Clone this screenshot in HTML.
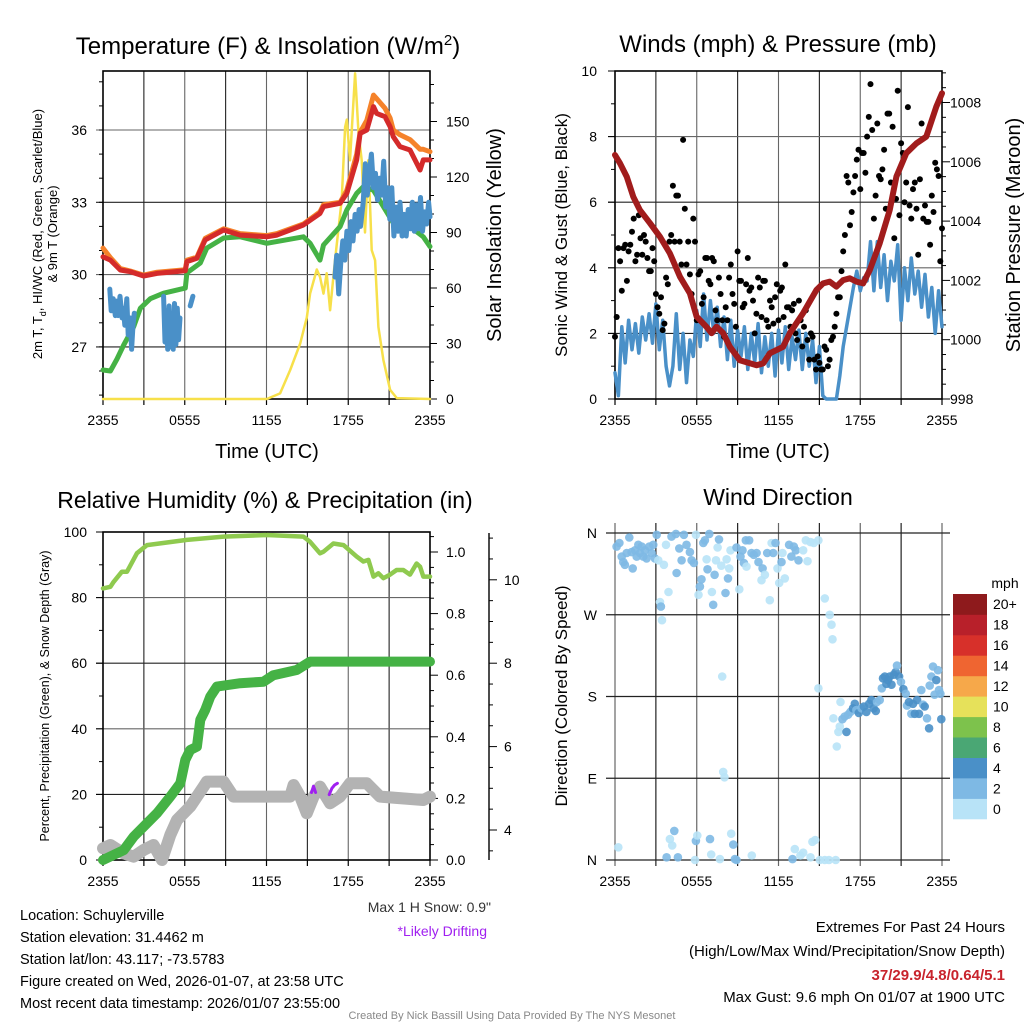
<!DOCTYPE html>
<html><head><meta charset="utf-8"><style>
html,body{margin:0;padding:0;background:#fff;}
svg{display:block;font-family:"Liberation Sans",Arial,sans-serif;}
</style></head><body>
<svg id="chart" width="1024" height="1024" viewBox="0 0 1024 1024" xmlns="http://www.w3.org/2000/svg">
<rect width="1024" height="1024" fill="#fff"/>
<g id="layer"></g>
<text x="268" y="54" font-size="24" text-anchor="middle">Temperature (F) &amp; Insolation (W/m<tspan dy="-9" font-size="15">2</tspan><tspan dy="9">)</tspan></text>
<text font-size="13" text-anchor="middle" transform="translate(42,234) rotate(-90)">2m T, T<tspan dy="4" font-size="9">d</tspan><tspan dy="-4">, HI/WC (Red, Green, Scarlet/Blue)</tspan></text>
<text font-size="13" text-anchor="middle" transform="translate(57,234) rotate(-90)">&amp; 9m T (Orange)</text>
<text font-size="20" text-anchor="middle" transform="translate(501,235) rotate(-90)">Solar Insolation (Yellow)</text>
<text x="267" y="458" font-size="20" text-anchor="middle">Time (UTC)</text>

<text x="778" y="52" font-size="24" text-anchor="middle">Winds (mph) &amp; Pressure (mb)</text>
<text font-size="17" text-anchor="middle" transform="translate(567,235) rotate(-90)">Sonic Wind &amp; Gust (Blue, Black)</text>
<text font-size="20" text-anchor="middle" transform="translate(1020,235) rotate(-90)">Station Pressure (Maroon)</text>
<text x="778" y="458" font-size="20" text-anchor="middle">Time (UTC)</text>

<text x="265" y="508" font-size="23" text-anchor="middle">Relative Humidity (%) &amp; Precipitation (in)</text>
<text font-size="12.5" text-anchor="middle" transform="translate(49,696) rotate(-90)">Percent, Precipitation (Green), &amp; Snow Depth (Gray)</text>
<text x="491" y="912" font-size="14" fill="#333" text-anchor="end">Max 1 H Snow: 0.9"</text>
<text x="487" y="936" font-size="14" fill="#a020f0" text-anchor="end">*Likely Drifting</text>

<text x="778" y="505" font-size="23" text-anchor="middle">Wind Direction</text>
<text font-size="17" text-anchor="middle" transform="translate(567,696) rotate(-90)">Direction (Colored By Speed)</text>
<text x="1005" y="588" font-size="14" text-anchor="middle">mph</text>

<g font-size="14.5">
<text x="20" y="920">Location: Schuylerville</text>
<text x="20" y="942">Station elevation: 31.4462 m</text>
<text x="20" y="964">Station lat/lon: 43.117; -73.5783</text>
<text x="20" y="986">Figure created on Wed, 2026-01-07, at 23:58 UTC</text>
<text x="20" y="1008">Most recent data timestamp: 2026/01/07 23:55:00</text>
</g>
<g font-size="15" text-anchor="end">
<text x="1005" y="932">Extremes For Past 24 Hours</text>
<text x="1005" y="956">(High/Low/Max Wind/Precipitation/Snow Depth)</text>
<text x="1005" y="980" font-weight="bold" fill="#c8232c">37/29.9/4.8/0.64/5.1</text>
<text x="1005" y="1002">Max Gust: 9.6 mph On 01/07 at 1900 UTC</text>
</g>
<text x="512" y="1019" font-size="11" fill="#888" text-anchor="middle">Created By Nick Bassill Using Data Provided By The NYS Mesonet</text>
</svg>
<script>
// ---------- DATA ----------
const xTickLabels = ["2355","0555","1155","1755","2355"];
const tempTicks = [27,30,33,36];
const insolTicks = [0,30,60,90,120,150];
const windTicks = [0,2,4,6,8,10];
const pressTicks = [998,1000,1002,1004,1006,1008];
const rhTicks = [0,20,40,60,80,100];
const precipTicks = [0.0,0.2,0.4,0.6,0.8,1.0];
const snowTicks = [4,6,8,10];
const dirLabels = ["N","E","S","W","N"];
const cbLabels = ["0","2","4","6","8","10","12","14","16","18","20+"];
const cbColors = ["#b8e3f7","#7eb9e4","#4a90c8","#4aa774","#7dc24c","#e6e15a","#f6a84a","#ef6531","#d7302a","#b8202a","#8e1a1c"];

const tempT = [0,0.54,1.27,2.0,2.98,3.96,6.04,6.16,6.89,7.5,8.85,10.07,12.02,12.76,14.71,15.93,16.18,17.4,17.89,18.62,18.87,19.36,19.85,20.09,20.7,21.07,21.31,21.8,22.53,23.27,23.51,24];
const tempRed = [30.74,30.6,30.19,30.12,29.94,30.05,30.16,30.54,30.68,31.44,31.85,31.64,31.57,31.64,32.06,32.54,32.82,32.96,33.37,34.76,35.86,36.0,36.97,36.69,36.55,36.14,35.72,35.31,35.17,34.34,34.76,34.76];
const temp9m = [31.1,30.7,30.25,30.15,29.98,30.1,30.2,30.6,30.72,31.5,31.9,31.7,31.62,31.7,32.1,32.6,32.9,33.0,33.5,35.0,35.9,36.4,37.45,37.3,36.9,36.5,36.0,35.8,35.6,35.2,35.2,35.1];
const dewT = [0,0.54,1.03,1.52,2.25,2.74,3.47,4.45,6.04,6.16,7.14,7.62,8.85,10.07,12.02,14.71,15.2,15.93,16.18,17.4,17.89,18.62,19.11,19.85,20.58,21.31,22.53,23.51,24];
const dewVal = [26.04,26.0,26.5,27.08,27.84,28.6,29.0,29.23,29.44,30.07,30.48,31.1,31.52,31.57,31.3,31.57,31.3,30.6,31.23,31.99,32.68,33.37,33.65,33.5,32.82,32.14,31.99,31.57,31.16];
const hiT = [0.5,0.6,0.75,0.9,1.0,1.1,1.25,1.4,1.5,1.6,1.75,1.85,2.0,2.1,2.2,2.3,null,4.45,4.55,4.65,4.75,4.85,4.95,5.05,5.15,5.25,5.35,5.45,5.55,5.65,null,6.4,6.6,null,17.03,17.15,17.3,17.45,17.6,17.75,17.9,18.05,18.2,18.35,18.5,18.65,18.8,18.9,19.1,19.25,19.4,19.55,19.7,19.85,20.0,20.15,20.3,20.45,20.6,20.75,20.9,21.05,21.2,21.35,21.5,21.65,21.8,21.95,22.1,22.25,22.4,22.55,22.7,22.85,23.0,23.15,23.3,23.45,23.6,23.75,23.9,24];
const hiVal = [29.4,28.5,29.0,28.3,28.9,28.3,29.1,28.2,28.6,27.9,29.0,27.5,28.2,26.9,27.9,28.4,null,29.1,27.2,28.5,26.9,28.7,27.0,28.3,26.9,28.8,27.1,28.6,27.3,28.2,null,28.7,29.1,null,29.9,30.8,29.2,30.5,31.4,30.6,31.8,31.0,32.2,31.4,32.5,31.8,32.7,32.0,33.0,34.6,33.3,34.2,35.0,33.6,34.2,33.1,34.0,33.3,34.7,32.8,33.6,32.3,33.6,31.6,32.8,31.8,33.0,31.6,32.5,31.6,32.7,31.9,33.0,31.8,32.9,31.9,33.2,31.8,32.6,32.1,33.0,32.4];
const solT = [0,12.02,13.0,13.74,14.47,14.96,15.2,15.69,15.93,16.18,16.42,16.67,17.03,17.52,17.77,17.89,18.13,18.5,18.75,18.99,19.23,19.48,19.72,19.97,20.21,20.58,21.07,21.56,24];
const solVal = [0,0,3,15.7,30,44,57,70,66,57,68,48,75,107.6,147,151,129,176,144,129,90,129,80.5,75,39,21,5,0.5,0];

const pressT = [0,0.37,0.86,1.34,1.83,2.57,3.3,4.03,4.77,5.5,5.99,6.72,7.09,7.45,7.94,8.43,9.16,10.39,10.88,11.36,12.34,12.83,13.81,14.79,15.27,15.76,16.25,16.74,17.23,17.72,18.21,18.7,19.43,20.16,20.65,21.38,22.12,22.85,23.58,24];
const pressVal = [1006.23,1005.95,1005.5,1004.82,1004.37,1003.93,1003.47,1002.91,1002.12,1001.56,1000.78,1000.43,1000.22,1000.44,1000.22,999.76,999.31,999.14,999.2,999.54,999.76,1000.22,1000.9,1001.68,1001.9,1001.96,1001.79,1002.01,1002.07,1001.96,1001.9,1002.35,1003.25,1004.37,1005.5,1006.29,1006.62,1006.85,1007.86,1008.31];
const windSpeed = [0.8,0.1,2.2,1.1,2.4,1.5,2.3,1.4,2.5,1.8,2.6,1.7,2.9,1.5,2.4,1.0,0.4,1.0,2.6,0.9,2.0,0.5,1.8,1.3,2.7,1.6,3.2,1.8,3.0,2.0,2.8,1.6,2.5,1.2,2.4,1.0,2.1,1.3,2.2,0.9,2.0,1.1,2.3,0.8,1.9,1.0,2.0,0.7,2.1,1.1,2.2,0.9,1.9,1.2,2.1,0.9,2.0,1.0,1.8,0.5,1.6,0.1,0.0,0.0,0.0,0.0,0.7,1.6,2.2,2.8,3.4,3.9,3.3,3.7,3.6,4.8,3.3,4.8,3.4,4.4,3.0,4.2,3.6,4.7,2.4,4.0,3.0,4.3,3.2,3.9,2.8,3.8,2.5,3.4,2.0,3.3,2.2];
const windGust = [1.9,4.6,3.3,4.7,4.5,5.1,4.2,5.6,4.4,4.8,3.9,4.6,3.2,2.6,2.1,3.7,4.8,6.5,6.2,4.8,7.9,4.1,3.8,5.5,2.4,3.9,3.1,4.3,3.5,4.2,2.4,3.2,1.9,2.4,4.1,2.9,4.5,3.6,2.9,4.3,3.4,2.0,3.7,2.5,3.6,2.2,2.8,3.1,2.4,3.4,4.1,2.8,2.7,2.0,3.0,1.6,2.7,1.2,1.9,0.9,1.1,0.9,1.5,1.2,1.9,2.6,3.1,4.5,6.8,5.3,6.3,7.3,6.4,7.5,8.0,9.6,5.5,8.4,6.7,7.6,8.7,6.6,4.9,9.4,7.8,6.0,8.9,5.5,6.6,4.4,8.4,5.9,5.4,6.2,7.2,6.8,5.2];
const windGust2 = [2.5,4.2,4.6,3.6,4.7,5.5,4.4,4.9,5.0,4.3,3.9,4.2,2.8,3.1,2.3,3.5,5.0,4.8,6.2,4.1,5.8,4.8,3.2,4.8,3.8,2.9,4.3,3.6,4.3,2.7,3.7,2.4,2.8,3.7,3.2,2.2,3.6,2.8,3.5,3.3,3.0,2.6,3.4,3.6,2.4,3.0,2.3,3.5,3.3,2.5,2.8,2.2,2.9,1.8,2.4,2.2,1.8,2.0,1.2,1.3,0.9,1.6,1.0,1.8,2.2,3.1,3.9,5.0,6.6,5.7,6.8,7.6,7.5,6.9,8.6,8.2,6.2,6.8,7.0,5.8,8.7,8.3,6.1,5.6,7.5,6.6,5.9,6.4,5.8,6.7,5.5,5.4,4.7,5.7,7.0,4.2];

const rhT = [0,0.54,0.78,1.39,1.76,2.49,3.23,6.16,8.85,12.02,14.71,15.2,15.93,16.18,16.91,17.65,18.62,19.11,19.48,19.85,20.21,20.58,21.07,21.55,22.04,22.53,23.02,23.27,23.51,24];
const rhVal = [82.8,83.3,84.8,87.9,87.9,93.5,96,97.6,98.6,99.1,98.6,97,93.5,94,96.5,96,92.5,91,91.5,86.4,87.4,85.9,87,88.4,88.4,87,90.4,89.4,86.4,86.4];
const precipT = [0,1.52,2.25,2.98,3.96,4.94,5.67,6.04,6.4,6.89,7.14,7.5,7.87,8.36,10.07,11.78,12.51,14.22,15.2,24];
const precipVal = [0,0.032,0.076,0.108,0.152,0.206,0.249,0.325,0.357,0.368,0.455,0.487,0.53,0.563,0.574,0.579,0.6,0.617,0.644,0.644];
const snowT = [0,0.54,1.52,2.25,2.98,3.71,4.33,4.94,5.43,6.4,7.38,7.62,8.85,9.58,13.74,13.99,14.47,14.96,15.45,15.93,16.67,17.4,18.13,19.36,20.33,23.51,24];
const snowVal = [3.56,3.64,3.44,3.36,3.52,3.64,3.28,3.88,4.24,4.56,5.04,5.16,5.16,4.8,4.8,5.08,4.8,4.4,4.8,5.04,4.64,4.8,5.12,5.12,4.8,4.72,4.8];
const driftT1 = [15.3,15.45,15.6];
const driftV1 = [4.9,5.05,4.9];
const driftT2 = [16.6,16.8,17.0,17.2];
const driftV2 = [4.85,5.0,5.08,5.12];

const dirT = [0.12,0.32,0.49,0.61,0.73,0.86,1.05,1.22,1.3,1.47,1.59,1.71,1.83,1.96,2.08,2.2,2.32,2.52,2.69,2.81,2.93,3.06,3.18,3.3,3.37,3.45,3.59,3.74,3.93,4.15,4.47,4.52,4.72,4.89,5.06,5.25,5.5,5.62,5.79,5.94,6.13,6.23,6.35,6.48,6.6,6.72,6.79,6.92,7.11,7.21,7.31,7.41,7.53,7.63,7.8,8.11,8.19,8.29,8.38,8.48,8.92,9.12,9.21,9.36,9.46,9.6,9.65,9.85,10.02,10.19,10.39,10.53,10.75,10.83,11.0,11.17,11.36,11.49,11.61,11.78,11.93,12.05,12.22,12.29,12.46,12.78,12.95,13.12,13.27,13.47,13.81,14.0,14.13,14.35,14.59,14.93,
7.87,7.94,8.04,14.93,15.4,15.76,15.89,15.96,
0.24,3.79,4.03,4.2,4.35,4.62,5.87,5.94,6.04,6.97,7.06,7.7,8.53,8.68,8.8,8.92,10.04,13.03,13.2,13.61,13.81,14.35,14.49,14.69,15.03,15.4,15.71,16.2,
16.03,16.28,16.4,16.5,16.55,16.69,16.86,16.99,17.11,17.28,17.47,17.6,17.72,17.89,18.09,18.26,18.45,18.65,18.82,18.99,19.14,19.23,19.43,19.58,19.67,19.8,19.92,20.04,20.16,20.29,20.46,20.6,20.7,20.85,20.99,21.17,21.34,21.43,21.58,21.75,21.87,22.0,22.17,22.31,22.48,22.61,22.73,22.9,23.05,23.1,23.22,23.34,23.46,23.58,23.71,23.78,23.88,23.95];
const dirDeg = [345,349,334,328,325,338,355,339,321,341,334,347,338,345,334,341,332,345,338,347,332,358,330,284,279,264,325,347,295,356,359,316,343,330,358,347,339,330,327,358,292,301,309,349,352,331,320,359,295,281,314,330,344,353,324,294,331,310,321,341,344,298,334,341,327,352,323,352,338,336,338,328,308,321,314,338,286,349,338,349,321,305,328,338,310,347,334,345,341,330,341,352,329,350,349,352,
202,97,91,189,288,270,259,243,
14,3,23,16,32,3,0,21,27,23,6,1,29,17,1,0,5,1,12,5,8,3,20,22,0,0,0,0,
156,125,141,147,174,155,158,141,160,163,167,172,165,162,167,169,163,172,176,167,164,174,176,189,200,202,194,198,202,193,204,207,214,202,196,188,183,170,174,161,172,161,176,161,187,171,169,156,145,192,202,213,182,198,209,187,183,155];
const dirSpd = [3,3,3,3,3,3,3,3,3,3,3,3,3,3,3,3,3,3,3,3,3,3,1,1,3,1,1,1,1,3,3,3,3,3,3,3,3,3,3,1,1,3,3,3,3,1,3,3,1,3,3,1,1,3,1,3,1,3,1,1,3,1,3,3,3,3,1,3,3,3,3,3,1,3,1,3,1,1,3,3,1,1,3,1,1,3,3,3,3,3,1,1,1,1,1,1,
1,1,1,1,1,1,1,1,
1,3,1,1,3,3,1,3,1,3,1,1,1,3,3,3,1,3,1,1,1,1,1,1,1,1,1,1,
1,1,1,1,1,3,3,5,3,3,5,5,3,5,3,5,5,5,5,5,5,3,3,3,5,5,5,5,5,5,5,5,3,5,3,5,3,3,5,3,5,5,5,5,3,3,5,3,5,3,3,3,3,5,3,3,3,5];

// ---------- DRAWING ----------
const NS = "http://www.w3.org/2000/svg";
const layer = document.getElementById('layer');
function mk(tag, attrs, parent){
  const e = document.createElementNS(NS, tag);
  for (const k in attrs) e.setAttribute(k, attrs[k]);
  (parent||layer).appendChild(e);
  return e;
}
function txt(s, x, y, size, anchor, parent){
  const e = mk('text', {x:x, y:y, 'font-size':size, 'text-anchor':anchor||'middle'}, parent);
  e.textContent = s;
  return e;
}
function pathFrom(ts, vs, xf, yf){
  let d = '', pen = false;
  for (let i=0;i<ts.length;i++){
    if (ts[i]===null || vs[i]===null){ pen=false; continue; }
    d += (pen?'L':'M') + xf(ts[i]).toFixed(1) + ',' + yf(vs[i]).toFixed(1);
    pen = true;
  }
  return d;
}
function line(ts, vs, xf, yf, color, w, name){
  const p = mk('path', {d:pathFrom(ts,vs,xf,yf), fill:'none', stroke:color, 'stroke-width':w, 'stroke-linejoin':'round', 'stroke-linecap':'round'});
  
  
  return p;
}
function panelFrame(x0,x1,y0,y1,name, gridYs, extend){
  const g = mk('g', {});
  
  
  for (let k=1;k<8;k++){
    const x = x0 + (x1-x0)*k/8;
    mk('line', {x1:x, x2:x, y1:y0, y2:y1, stroke:(k%2? '#222':'#666'), 'stroke-width':1.1}, g);
  }
  gridYs.forEach((y,i)=>{
    mk('line', {x1:x0-(extend||7), x2:x1+(extend?extend:0), y1:y, y2:y, stroke:(i%2?'#666':'#222'), 'stroke-width':1.1}, g);
  });
  mk('rect', {x:x0, y:y0, width:x1-x0, height:y1-y0, fill:'none', stroke:'#000', 'stroke-width':1.6}, g);
  for (let k=0;k<=8;k++){
    const x = x0 + (x1-x0)*k/8;
    mk('line', {x1:x, x2:x, y1:y1, y2:y1+6, stroke:'#000', 'stroke-width':1.2}, g);
  }
  xTickLabels.forEach((s,i)=>{
    const t = txt(s, x0+(x1-x0)*i/4, y1+26, 14, 'middle', g);
    
    
  });
  return g;
}

// Panel 1
(function(){
  const x0=103,x1=430,y0=71,y1=399;
  const X = t => x0 + t/24*(x1-x0);
  const YT = v => 130 + (36-v)*24.1;
  const YS = v => 399 - v*55.5/30;
  panelFrame(x0,x1,y0,y1,'temperature-panel', tempTicks.map(YT));
  const ax = mk('g', {});
  
  
  for (let v=25; v<=38; v++){ const y=YT(v); if (y>=y0&&y<=y1) mk('line',{x1:x0-4,x2:x0,y1:y,y2:y,stroke:'#000'},ax); }
  tempTicks.forEach(v=>{ const t=txt(String(v), 87, YT(v)+5, 14, 'end', ax);  });
  for (let v=0; v<=175; v+=10){ const y=YS(v); mk('line',{x1:x1,x2:x1+(v%30===0?7:4),y1:y,y2:y,stroke:'#000'},ax); }
  insolTicks.forEach(v=>{ const t=txt(String(v), 446, YS(v)+5, 14, 'start', ax);  });
  line(solT, solVal, X, YS, '#f7e04a', 2.5, 'solar-insolation-line');
  line(dewT, dewVal, X, YT, '#45b245', 5, 'dewpoint-line');
  line(hiT, hiVal, X, YT, '#4a90c8', 5, 'heat-index-windchill-line');
  line(tempT, temp9m, X, YT, '#f5822a', 5, 'temp-9m-line');
  line(tempT, tempRed, X, YT, '#d42a2a', 5, 'temp-2m-line');
})();

// Panel 2
(function(){
  const x0=615,x1=942,y0=71,y1=399;
  const X = t => x0 + t/24*(x1-x0);
  const YW = v => 399 - v*32.8;
  const YP = v => 399 - (v-998)*29.65;
  panelFrame(x0,x1,y0,y1,'wind-panel', windTicks.slice(1,5).map(YW));
  const ax = mk('g', {});
  
  
  for (let v=0; v<=10; v+=1){ const y=YW(v); mk('line',{x1:x0-(v%2?4:7),x2:x0,y1:y,y2:y,stroke:'#000'},ax); }
  windTicks.forEach(v=>{ const t=txt(String(v), 597, YW(v)+5, 14, 'end', ax);  });
  for (let v=998; v<=1009; v+=0.5){ const y=YP(v); mk('line',{x1:x1,x2:x1+(v%2===0?8:4),y1:y,y2:y,stroke:'#000'},ax); }
  pressTicks.forEach(v=>{ const t=txt(String(v), 950, YP(v)+5, 14, 'start', ax);  });
  const wt = windSpeed.map((_,i)=>i*0.25);
  line(wt, windSpeed, X, YW, '#4a90c8', 3.5, 'sonic-wind-line');
  const gg = mk('g', {});
  
  
  windGust.forEach((v,i)=>{
    const c = mk('circle', {cx:X(i*0.25).toFixed(1), cy:YW(v).toFixed(1), r:3, fill:'#000'}, gg);
    
    
  });
  windGust2.forEach((v,i)=>{
    const c = mk('circle', {cx:X(0.125+i*0.25).toFixed(1), cy:YW(v).toFixed(1), r:3, fill:'#000'}, gg);
    
    
  });
  line(pressT, pressVal, X, YP, '#a11c1c', 6, 'pressure-line');
})();

// Panel 3
(function(){
  const x0=103,x1=430,y0=532,y1=860;
  const X = t => x0 + t/24*(x1-x0);
  const YR = v => 860 - v*3.28;
  const YPr = v => 860 - v*308;
  const YS = v => 830 - (v-4)*41.7;
  panelFrame(x0,x1,y0,y1,'humidity-panel', rhTicks.slice(1,5).map(YR));
  const ax = mk('g', {});
  
  
  for (let v=0; v<=100; v+=10){ const y=YR(v); mk('line',{x1:x0-(v%20?4:7),x2:x0,y1:y,y2:y,stroke:'#000'},ax); }
  rhTicks.forEach(v=>{ const t=txt(String(v), 87, YR(v)+5, 14, 'end', ax);  });
  for (let k=0; k<=21; k++){ const v=k*0.05; const y=YPr(v); if (y<y0) continue; mk('line',{x1:x1,x2:x1+(k%4===0?8:4),y1:y,y2:y,stroke:'#000'},ax); }
  precipTicks.forEach(v=>{ const t=txt(v.toFixed(1), 446, YPr(v)+5, 14, 'start', ax);  });
  mk('line',{x1:489,x2:489,y1:533,y2:860,stroke:'#000','stroke-width':1.4},ax);
  for (let v=3.5; v<=11; v+=0.5){ const y=YS(v); if (y<533||y>860) continue; mk('line',{x1:489,x2:489+(v%2===0?8:4),y1:y,y2:y,stroke:'#000'},ax); }
  snowTicks.forEach(v=>{ const t=txt(String(v), 504, YS(v)+5, 14, 'start', ax);  });
  line(snowT, snowVal, X, YS, '#b3b3b3', 12, 'snow-depth-line');
  line(driftT1, driftV1, X, YS, '#a020f0', 3, 'drifting-mark');
  line(driftT2, driftV2, X, YS, '#a020f0', 3, 'drifting-mark');
  line(precipT, precipVal, X, YPr, '#45b245', 10, 'precipitation-line');
  line(rhT, rhVal, X, YR, '#8fca4f', 4.5, 'relative-humidity-line');
})();

// Panel 4
(function(){
  const x0=615,x1=942,y0=533,y1=860;
  const X = t => x0 + t/24*(x1-x0);
  const YD = d => 860 - d/360*327;
  const g = mk('g', {});
  
  
  for (let k=0;k<=8;k++){
    const x = x0 + (x1-x0)*k/8;
    mk('line', {x1:x, x2:x, y1:y0-10, y2:y1+6, stroke:(k%2? '#222':'#666'), 'stroke-width':1.2}, g);
  }
  dirLabels.forEach((s,i)=>{
    const y = YD(i*90);
    mk('line', {x1:606, x2:950, y1:y, y2:y, stroke:'#222', 'stroke-width':1.2}, g);
    const t = txt(s, 597, y+5, 14, 'end', g);
    
  });
  xTickLabels.forEach((s,i)=>{
    const t = txt(s, x0+(x1-x0)*i/4, y1+26, 14, 'middle', g);
    
  });
  const pg = mk('g', {});
  
  
  dirT.forEach((t,i)=>{
    const bin = Math.min(10, Math.floor(dirSpd[i]/2));
    const c = mk('circle', {cx:X(t).toFixed(1), cy:YD(dirDeg[i]).toFixed(1), r:4.3, fill:cbColors[bin], 'fill-opacity':0.9}, pg);
    
    
  });
  const cb = mk('g', {});
  
  
  const h = 225/11;
  cbColors.forEach((c,i)=>{
    const y = 819 - (i+1)*h;
    mk('rect', {x:953, y:y.toFixed(1), width:34, height:(h+0.3).toFixed(1), fill:c}, cb);
    const t = txt(cbLabels[i], 993, y+h/2+5, 14, 'start', cb);
    
  });
})();
</script>
</body></html>
